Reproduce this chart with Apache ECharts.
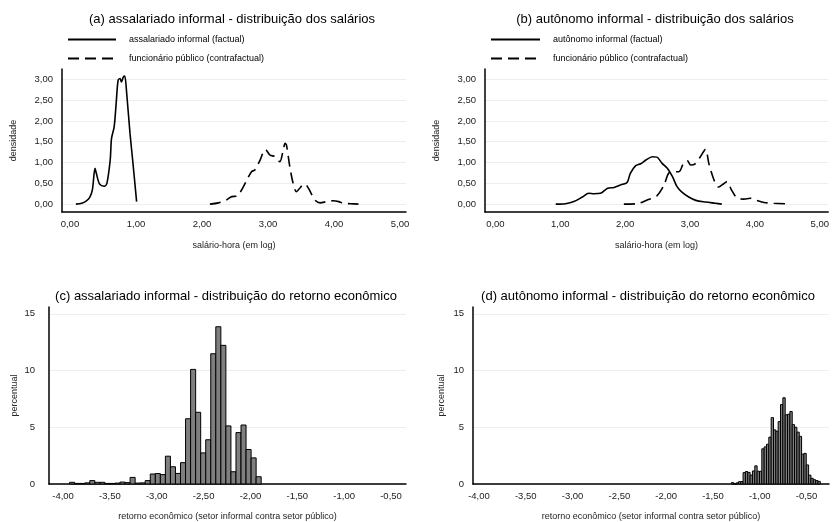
<!DOCTYPE html>
<html>
<head>
<meta charset="utf-8">
<script src="https://cdn.jsdelivr.net/npm/echarts@6/dist/echarts.min.js"></script>
<style>html,body{margin:0;padding:0;background:#fff}#c{width:832px;height:522px}</style>
</head>
<body>
<div id="c"></div>
<script>
// ---- Panel (a): assalariado informal – densities ----
const aFactX = [0.09,0.18,0.25,0.30,0.34,0.38,0.40,0.45,0.52,0.56,0.61,0.63,0.67,0.70,0.73,0.76,0.78,0.81,0.83,0.86,0.91,0.95,1.01];
const aFactY = [0.00,0.02,0.08,0.16,0.34,0.86,0.74,0.48,0.43,0.50,1.06,1.58,1.86,2.42,2.98,3.02,2.94,3.06,3.08,2.66,1.70,1.06,0.06];
const aContX = [2.12,2.25,2.37,2.45,2.53,2.60,2.68,2.75,2.80,2.88,2.93,2.96,3.03,3.11,3.18,3.22,3.26,3.28,3.33,3.38,3.43,3.48,3.54,3.58,3.64,3.71,3.79,3.89,3.99,4.07,4.14,4.25,4.37];
const aContY = [0.00,0.03,0.10,0.18,0.19,0.34,0.58,0.78,0.82,1.06,1.26,1.31,1.18,1.14,1.02,1.22,1.46,1.42,0.90,0.50,0.30,0.38,0.48,0.46,0.30,0.10,0.03,0.06,0.08,0.06,0.02,0.01,0.00];

// ---- Panel (b): autônomo informal – densities ----
const bFactX = [0.93,1.08,1.21,1.34,1.44,1.52,1.62,1.73,1.83,1.93,2.03,2.08,2.16,2.24,2.32,2.42,2.49,2.57,2.65,2.73,2.80,2.88,2.98,3.09,3.24,3.39,3.49];
const bFactY = [0.00,0.01,0.06,0.17,0.26,0.25,0.26,0.38,0.40,0.46,0.52,0.74,0.92,0.97,1.06,1.14,1.13,0.98,0.86,0.66,0.42,0.28,0.17,0.09,0.05,0.02,0.00];
const bContX = [1.98,2.19,2.34,2.49,2.60,2.67,2.75,2.83,2.90,2.96,3.01,3.08,3.16,3.24,3.29,3.37,3.44,3.52,3.57,3.64,3.73,3.83,3.93,4.03,4.14,4.29,4.47];
const bContY = [0.00,0.01,0.10,0.20,0.46,0.74,0.78,0.78,0.98,1.04,0.94,0.97,1.14,1.32,0.98,0.58,0.41,0.49,0.54,0.34,0.14,0.12,0.14,0.09,0.04,0.02,0.01];

// ---- Panel (c): histogram of economic return, assalariado informal ----
const cBinStart = -3.93;
const cBinWidth = 0.0538;
const cPercent = [0.15,0.05,0.05,0.10,0.30,0.15,0.15,0.05,0.05,0.08,0.17,0.12,0.58,0.08,0.10,0.30,0.88,0.92,0.83,2.45,1.52,0.93,1.88,5.75,10.10,6.32,2.74,3.90,11.48,13.86,12.22,5.12,1.08,4.53,5.20,3.04,2.30,0.64];

// ---- Panel (d): histogram of economic return, autônomo informal ----
const dBinStart = -1.303;
const dBinWidth = 0.025;
const dPercent = [0.12,0.00,0.10,0.20,0.22,1.00,1.10,1.02,0.78,1.15,1.60,1.12,1.12,3.10,3.27,3.50,4.13,5.85,4.77,4.65,5.50,7.00,7.60,6.10,6.15,6.39,5.23,5.00,4.57,4.20,2.63,2.70,1.68,0.78,0.50,0.38,0.30,0.23];

// ---- tick labels ----
const wageTicks = [0,1,2,3,4,5];
const densTicks = [0,0.5,1,1.5,2,2.5,3];
const retTicks = [-4,-3.5,-3,-2.5,-2,-1.5,-1,-0.5];
const pctTicks = [0,5,10,15];

const titles = ['(a) assalariado informal - distribuição dos salários','(b) autônomo informal - distribuição dos salários','(c) assalariado informal - distribuição do retorno econômico','(d) autônomo informal - distribuição do retorno econômico'];
const names = {aF:'assalariado informal (factual)', bF:'autônomo informal (factual)', cont:'funcionário público (contrafactual)'};

const FONT = '"Liberation Sans", Arial, sans-serif';
const comma2 = v => v.toFixed(2).replace('.', ',');
const zip = (xs, ys) => xs.map((x,i)=>[x, ys[i]]);
const bins = (s, w, h) => h.map((v,i)=>[s + i*w, s + (i+1)*w, v]);

function xAx(gi, min, max, ticks, name, margin, nameGap){
  return {type:'value', gridIndex:gi, min, max,
    axisLine:{show:true, onZero:false, lineStyle:{color:'#000', width:1.5}},
    axisTick:{show:false, customValues:ticks},
    axisLabel:{customValues:ticks, formatter:comma2, color:'#222', fontSize:9.5, fontFamily:FONT, margin},
    splitLine:{show:false},
    name, nameLocation:'middle', nameGap, nameTextStyle:{color:'#222', fontSize:9, fontFamily:FONT}};
}
function yAx(gi, min, max, ticks, fmt, name, margin, nameGap){
  return {type:'value', gridIndex:gi, min, max,
    axisLine:{show:true, onZero:false, lineStyle:{color:'#000', width:1.5}},
    axisTick:{show:false, customValues:ticks},
    axisLabel:{customValues:ticks, formatter:fmt, color:'#222', fontSize:9.5, fontFamily:FONT, margin},
    splitLine:{show:true, lineStyle:{color:'#eeeeee', width:1}},
    name, nameLocation:'middle', nameGap, nameRotate:90, nameTextStyle:{color:'#222', fontSize:9, fontFamily:FONT}};
}
function histItem(params, api){
  const p0 = api.coord([api.value(0), api.value(2)]);
  const p1 = api.coord([api.value(1), 0]);
  return {type:'rect', shape:{x:p0[0], y:p0[1], width:p1[0]-p0[0], height:p1[1]-p0[1]},
    style:{fill:'#7f7f7f', stroke:'#000', lineWidth:1}};
}
const solid = {color:'#000', width:1.6, type:'solid'};
const dashed = {color:'#000', width:1.6, type:[11,6]};
const legendCommon = {orient:'vertical', itemHeight:10, itemGap:10, padding:0, selectedMode:false,
  itemStyle:{color:'rgba(0,0,0,0)', borderWidth:0, opacity:0},
  textStyle:{fontSize:9, color:'#000', fontFamily:FONT, padding:[0,0,0,8]}};

const option = {
  animation:false,
  backgroundColor:'#fff',
  title: [
    {text:titles[0], left:232, top:13, textAlign:'center'},
    {text:titles[1], left:655, top:13, textAlign:'center'},
    {text:titles[2], left:226, top:290, textAlign:'center'},
    {text:titles[3], left:648, top:290, textAlign:'center'}
  ].map(t=>Object.assign(t,{padding:0, textStyle:{fontSize:13, fontWeight:'normal', color:'#000', fontFamily:FONT}})),
  legend: [
    Object.assign({data:[names.aF, names.cont], left:67, top:35, itemWidth:48}, legendCommon),
    Object.assign({data:[names.bF, names.cont], left:490, top:35, itemWidth:49}, legendCommon)
  ],
  grid: [
    {left:62, right:426, top:69, bottom:310},
    {left:485, right:3, top:69, bottom:310},
    {left:49, right:426, top:307, bottom:34},
    {left:473, right:3, top:307, bottom:34}
  ],
  xAxis: [
    xAx(0, -0.12, 5.09, wageTicks, 'salário-hora (em log)', 7, 29),
    xAx(1, -0.16, 5.13, wageTicks, 'salário-hora (em log)', 7, 29),
    xAx(2, -4.15, -0.34, retTicks, 'retorno econômico (setor informal contra setor público)', 7, 28),
    xAx(3, -4.064, -0.26, retTicks, 'retorno econômico (setor informal contra setor público)', 7, 28)
  ],
  yAxis: [
    yAx(0, -0.19, 3.25, densTicks, comma2, 'densidade', 9, 44),
    yAx(1, -0.19, 3.25, densTicks, comma2, 'densidade', 9, 44),
    yAx(2, 0, 15.6, pctTicks, v=>String(v), 'percentual', 14, 30),
    yAx(3, 0, 15.6, pctTicks, v=>String(v), 'percentual', 9, 27)
  ],
  series: [
    {name:names.aF, type:'line', xAxisIndex:0, yAxisIndex:0, data:zip(aFactX,aFactY), showSymbol:false, symbol:'none', smooth:0.3, lineStyle:solid, itemStyle:{color:'#000'}},
    {name:names.cont, type:'line', xAxisIndex:0, yAxisIndex:0, data:zip(aContX,aContY), showSymbol:false, symbol:'none', smooth:0.3, lineStyle:dashed, itemStyle:{color:'#000'}},
    {name:names.bF, type:'line', xAxisIndex:1, yAxisIndex:1, data:zip(bFactX,bFactY), showSymbol:false, symbol:'none', smooth:0.3, lineStyle:solid, itemStyle:{color:'#000'}},
    {name:names.cont, type:'line', xAxisIndex:1, yAxisIndex:1, data:zip(bContX,bContY), showSymbol:false, symbol:'none', smooth:0.3, lineStyle:dashed, itemStyle:{color:'#000'}},
    {type:'custom', xAxisIndex:2, yAxisIndex:2, renderItem:histItem, data:bins(cBinStart,cBinWidth,cPercent), encode:{x:[0,1], y:2}},
    {type:'custom', xAxisIndex:3, yAxisIndex:3, renderItem:histItem, data:bins(dBinStart,dBinWidth,dPercent), encode:{x:[0,1], y:2}}
  ]
};
const chart = echarts.init(document.getElementById('c'), null, {renderer:'canvas'});
chart.setOption(option);
</script>
</body>
</html>
